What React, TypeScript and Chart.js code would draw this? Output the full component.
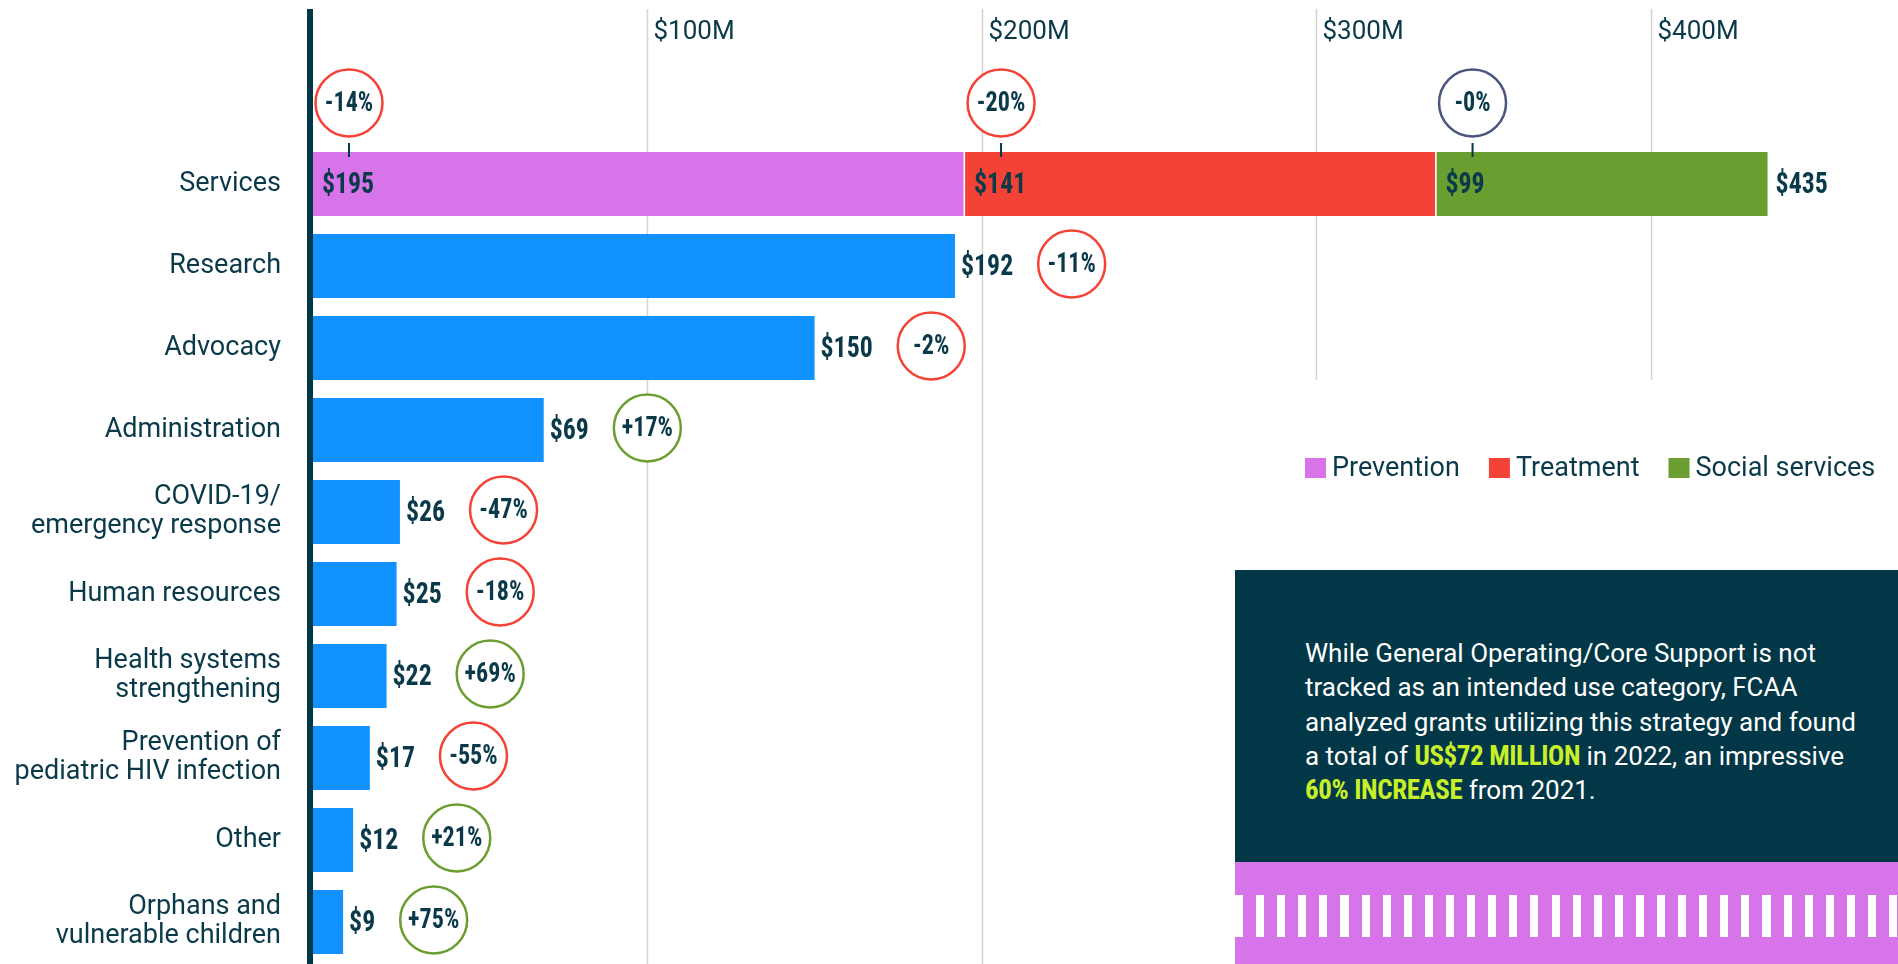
import React, { useEffect, useRef } from "react";
import { Chart, registerables } from "chart.js";

Chart.register(...registerables);

// ---------- data ----------
const categories: (string | string[])[] = [
  "Services",
  "Research",
  "Advocacy",
  "Administration",
  ["COVID-19/", "emergency response"],
  "Human resources",
  ["Health systems", "strengthening"],
  ["Prevention of", "pediatric HIV infection"],
  "Other",
  ["Orphans and", "vulnerable children"],
];
const preventionValues = [195, null, null, null, null, null, null, null, null, null];
const treatmentValues = [141, null, null, null, null, null, null, null, null, null];
const socialServicesValues = [99, null, null, null, null, null, null, null, null, null];
const intendedUseValues = [null, 192, 150, 69, 26, 25, 22, 17, 12, 9];
const servicesChangeLabels = ["-14%", "-20%", "-0%"];
const changeLabels = [null, "-11%", "-2%", "+17%", "-47%", "-18%", "+69%", "-55%", "+21%", "+75%"];
const xTickValues = [100, 200, 300, 400];
const xTickLabels = ["$100M", "$200M", "$300M", "$400M"];
const legendLabels = ["Prevention", "Treatment", "Social services"];

// ---------- style ----------
const INK = "#0A3A4A";
const NAVY = "#023747";
const PINK = "#D874EA";
const RED = "#F44336";
const GREEN = "#6B9E30";
const BLUE = "#1192FF";
const SLATE = "#4A5580";
const LIME = "#C8F02A";
const REG = '"Roboto", "Noto Sans", sans-serif';
const COND = '"Roboto Condensed", "Liberation Sans Narrow", "DejaVu Sans Condensed", sans-serif';

function badgeColor(s: string) {
  if (s === "-0%") return SLATE;
  return s.startsWith("+") ? GREEN : RED;
}

// draws condensed bold text, returns its drawn width
function condText(ctx: CanvasRenderingContext2D, text: string, x: number, y: number, size: number, align: CanvasTextAlign) {
  const sx = 0.86;
  ctx.save();
  ctx.font = `bold ${size}px ${COND}`;
  ctx.textBaseline = "middle";
  ctx.textAlign = align;
  ctx.translate(x, y);
  ctx.scale(sx, 1);
  ctx.fillText(text, 0, 0);
  const w = ctx.measureText(text).width * sx;
  ctx.restore();
  return w;
}

function drawBadge(ctx: CanvasRenderingContext2D, cx: number, cy: number, text: string) {
  ctx.save();
  ctx.beginPath();
  ctx.arc(cx, cy, 33.5, 0, Math.PI * 2);
  ctx.fillStyle = "#fff";
  ctx.fill();
  ctx.lineWidth = 2.5;
  ctx.strokeStyle = badgeColor(text);
  ctx.stroke();
  ctx.fillStyle = INK;
  condText(ctx, text, cx, cy + 1, 28, "center");
  ctx.restore();
}

const decorPlugin = {
  id: "decor",
  beforeDatasetsDraw(chart: any) {
    const ctx: CanvasRenderingContext2D = chart.ctx;
    const xs = chart.scales.x;
    const ys = chart.scales.y;
    const shortBottom = ys.getPixelForValue(2) + 32;
    ctx.save();
    xTickValues.forEach((v, i) => {
      const x = Math.round(xs.getPixelForValue(v)) + 0.5;
      ctx.strokeStyle = "#D4D4D4";
      ctx.lineWidth = 1.5;
      ctx.beginPath();
      ctx.moveTo(x, 9);
      ctx.lineTo(x, v <= 200 ? chart.height : shortBottom);
      ctx.stroke();
      ctx.fillStyle = INK;
      ctx.font = `26px ${REG}`;
      ctx.textAlign = "left";
      ctx.textBaseline = "middle";
      ctx.fillText(xTickLabels[i], x + 6, 32);
    });
    ctx.restore();
  },
  afterDatasetsDraw(chart: any) {
    const ctx: CanvasRenderingContext2D = chart.ctx;
    const xs = chart.scales.x;
    const x0 = xs.getPixelForValue(0);
    ctx.save();
    // axis line
    ctx.fillStyle = NAVY;
    ctx.fillRect(x0 - 6, 9, 6, chart.height - 9);

    // services stacked row
    const stackVals = [preventionValues[0], treatmentValues[0], socialServicesValues[0]];
    let lastEnd = 0;
    let total = 0;
    for (let d = 0; d < 3; d++) {
      const el = chart.getDatasetMeta(d).data[0];
      const base = el.base;
      const top = el.y - el.height / 2;
      ctx.fillStyle = INK;
      condText(ctx, "$" + stackVals[d], base + 9, el.y + 1, 30, "left");
      const cx = base + 36;
      ctx.strokeStyle = NAVY;
      ctx.lineWidth = 2;
      ctx.beginPath();
      ctx.moveTo(cx, top - 9);
      ctx.lineTo(cx, top + 5);
      ctx.stroke();
      drawBadge(ctx, cx, top - 49, servicesChangeLabels[d]);
      lastEnd = el.x;
      total += stackVals[d] as number;
    }
    const el0 = chart.getDatasetMeta(2).data[0];
    ctx.fillStyle = INK;
    condText(ctx, "$" + total, lastEnd + 8, el0.y + 1, 30, "left");

    // single-colour rows
    const meta = chart.getDatasetMeta(3);
    intendedUseValues.forEach((v, i) => {
      if (v == null) return;
      const el = meta.data[i];
      ctx.fillStyle = INK;
      const w = condText(ctx, "$" + v, el.x + 6, el.y + 1, 30, "left");
      const ch = changeLabels[i];
      if (ch) drawBadge(ctx, el.x + 6 + w + 25 + 33.5, el.y - 2, ch);
    });

    // legend
    const colors = [PINK, RED, GREEN];
    let lx = 1305;
    const ly = 468;
    ctx.font = `27px ${REG}`;
    ctx.textBaseline = "middle";
    ctx.textAlign = "left";
    legendLabels.forEach((t, i) => {
      ctx.fillStyle = colors[i];
      ctx.fillRect(lx, ly - 10, 21, 20);
      ctx.fillStyle = INK;
      ctx.fillText(t, lx + 27, ly + 1);
      lx += 27 + ctx.measureText(t).width + 29;
    });
    ctx.restore();
  },
};

export default function App() {
  const canvasRef = useRef<HTMLCanvasElement | null>(null);

  useEffect(() => {
    const canvas = canvasRef.current;
    if (!canvas) return;
    const stackBorder = { top: 0, bottom: 0, left: 0, right: 1.5 };
    const chart = new Chart(canvas, {
      type: "bar",
      data: {
        labels: categories as any,
        datasets: [
          { label: legendLabels[0], data: preventionValues as any, backgroundColor: PINK, borderColor: "#fff", borderWidth: stackBorder, borderSkipped: "start" },
          { label: legendLabels[1], data: treatmentValues as any, backgroundColor: RED, borderColor: "#fff", borderWidth: stackBorder, borderSkipped: "start" },
          { label: legendLabels[2], data: socialServicesValues as any, backgroundColor: GREEN, borderWidth: 0 },
          { label: "Intended use", data: intendedUseValues as any, backgroundColor: BLUE, borderWidth: 0 },
        ],
      },
      options: {
        indexAxis: "y",
        responsive: false,
        maintainAspectRatio: false,
        animation: false,
        devicePixelRatio: 1,
        datasets: { bar: { barPercentage: 0.78, categoryPercentage: 1 } },
        layout: { padding: { left: 0, right: 0, top: 143, bottom: 1 } },
        plugins: { legend: { display: false }, tooltip: { enabled: false } },
        scales: {
          x: { stacked: true, min: 0, max: 474, display: false },
          y: {
            stacked: true,
            afterFit: (scale: any) => {
              scale.width = 313;
              scale.paddingTop = 0;
              scale.paddingBottom = 0;
            },
            grid: { display: false, drawTicks: false, tickLength: 0 },
            border: { display: false },
            ticks: {
              padding: 32,
              color: INK,
              font: { family: REG, size: 27, lineHeight: 1.08 },
            },
          },
        },
      },
      plugins: [decorPlugin],
    } as any);
    return () => chart.destroy();
  }, []);

  const hl: React.CSSProperties = {
    color: LIME,
    fontFamily: COND,
    fontWeight: 700,
    fontSize: 27,
    letterSpacing: "-0.4px",
  };

  return (
    <div style={{ position: "fixed", left: 0, top: 0, width: 1898, height: 964, background: "#fff", overflow: "hidden" }}>
      <canvas ref={canvasRef} width={1898} height={964} style={{ position: "absolute", left: 0, top: 0, display: "block" }} />
      <div
        style={{
          position: "absolute",
          left: 1235,
          top: 570,
          width: 663,
          height: 292,
          background: NAVY,
          boxSizing: "border-box",
          paddingLeft: 70,
          paddingTop: 66,
          color: "#fff",
          fontFamily: REG,
          fontSize: 26,
          fontWeight: 400,
          lineHeight: "34.3px",
          whiteSpace: "nowrap",
        }}
      >
        While General Operating/Core Support is not
        <br />
        tracked as an intended use category, FCAA
        <br />
        analyzed grants utilizing this strategy and found
        <br />
        a total of <span style={hl}>US$72 MILLION</span> in 2022, an impressive
        <br />
        <span style={hl}>60% INCREASE</span> from 2021.
      </div>
      <div style={{ position: "absolute", left: 1235, top: 862, width: 663, height: 102, background: PINK }}>
        <div
          style={{
            position: "absolute",
            left: 0,
            top: 33,
            width: 663,
            height: 42,
            background: "repeating-linear-gradient(to right, #fff 0px, #fff 8px, transparent 8px, transparent 21.1px)",
          }}
        />
      </div>
    </div>
  );
}
